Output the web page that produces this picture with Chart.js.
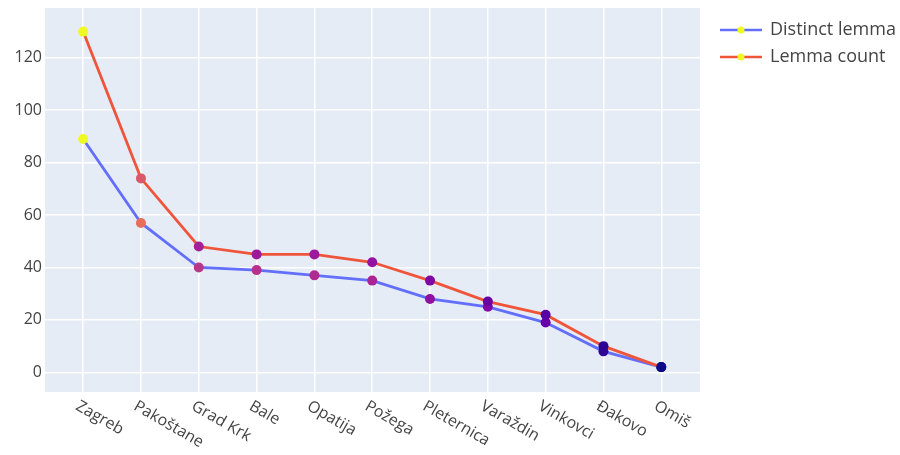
<!DOCTYPE html>
<html lang="en">
<head>
<meta charset="UTF-8">
<title>Lemma counts by city</title>
<script src="https://cdn.jsdelivr.net/npm/chart.js"></script>
<style>
  body { margin: 0; background: #fff; }
  #wrap { width: 900px; height: 455px; }
</style>
</head>
<body>
<div id="wrap"><canvas id="chart" width="900" height="455"></canvas></div>
<script>
// categories and series
const cities = ["Zagreb", "Pakoštane", "Grad Krk", "Bale", "Opatija", "Požega",
                "Pleternica", "Varaždin", "Vinkovci", "Đakovo", "Omiš"];
const distinctLemma = [89, 57, 40, 39, 37, 35, 28, 25, 19, 8, 2];
const lemmaCount = [130, 74, 48, 45, 45, 42, 35, 27, 22, 10, 2];
const yTicks = [0, 20, 40, 60, 80, 100, 120];

// plotly "Plasma" colorscale for marker colours
const plasmaStops = ["#0d0887", "#46039f", "#7201a8", "#9c179e", "#bd3786",
                     "#d8576b", "#ed7953", "#fb9f3a", "#fdca26", "#f0f921"];
function hex(c) { return [1, 3, 5].map(i => parseInt(c.substr(i, 2), 16)); }
function plasma(t) {
    t = Math.max(0, Math.min(1, t)) * (plasmaStops.length - 1);
    const i = Math.min(Math.floor(t), plasmaStops.length - 2);
    const f = t - i;
    const a = hex(plasmaStops[i]), b = hex(plasmaStops[i + 1]);
    return "rgb(" + a.map((v, k) => Math.round(v + (b[k] - v) * f)).join(",") + ")";
}
function markerColors(vals) {
    const lo = Math.min(...vals), hi = Math.max(...vals);
    return vals.map(v => plasma((v - lo) / (hi - lo)));
}

const FONT = "'Open Sans', 'Noto Sans', sans-serif";
const TXT = "#444";

// rotated category labels + plotly style legend
const extras = {
    id: "extras",
    afterDraw(chart) {
        const ctx = chart.ctx;
        const xs = chart.scales.x;
        ctx.save();
        ctx.font = "16px " + FONT;
        ctx.fillStyle = TXT;
        ctx.textAlign = "left";
        ctx.textBaseline = "top";
        cities.forEach((c, i) => {
            const px = xs.getPixelForValue(i);
            ctx.save();
            ctx.translate(px - 2, chart.chartArea.bottom + 6);
            ctx.rotate(30 * Math.PI / 180);
            ctx.fillText(c, 0, 0);
            ctx.restore();
        });
        // legend
        const items = [
            { label: "Distinct lemma", color: "#636efa", y: 30 },
            { label: "Lemma count", color: "#ef553b", y: 57 }
        ];
        ctx.font = "18px " + FONT;
        ctx.textBaseline = "middle";
        items.forEach(it => {
            ctx.strokeStyle = it.color;
            ctx.lineWidth = 2.5;
            ctx.beginPath();
            ctx.moveTo(720, it.y);
            ctx.lineTo(762, it.y);
            ctx.stroke();
            ctx.fillStyle = "#f0f921";
            ctx.beginPath();
            ctx.arc(741, it.y, 3.5, 0, Math.PI * 2);
            ctx.fill();
            ctx.fillStyle = TXT;
            ctx.fillText(it.label, 770, it.y);
        });
        ctx.restore();
    }
};

const plotBg = {
    id: "plotBg",
    beforeDraw(chart) {
        const a = chart.chartArea;
        chart.ctx.save();
        chart.ctx.fillStyle = "#e5ecf6";
        chart.ctx.fillRect(a.left, a.top, a.right - a.left, a.bottom - a.top);
        chart.ctx.restore();
    }
};

new Chart(document.getElementById("chart"), {
    type: "line",
    data: {
        datasets: [
            {
                label: "Distinct lemma",
                data: distinctLemma.map((v, i) => ({ x: i, y: v })),
                borderColor: "#636efa",
                borderWidth: 2.8,
                pointRadius: 5,
                pointBorderWidth: 0,
                pointBackgroundColor: markerColors(distinctLemma),
                order: 1
            },
            {
                label: "Lemma count",
                data: lemmaCount.map((v, i) => ({ x: i, y: v })),
                borderColor: "#ef553b",
                borderWidth: 2.8,
                pointRadius: 5,
                pointBorderWidth: 0,
                pointBackgroundColor: markerColors(lemmaCount),
                order: 0
            }
        ]
    },
    options: {
        responsive: false,
        animation: false,
        layout: { padding: { top: 8, right: 200, left: 0, bottom: 0 } },
        plugins: { legend: { display: false }, tooltip: { enabled: false } },
        scales: {
            x: {
                type: "linear",
                min: -0.66,
                max: 10.67,
                afterBuildTicks: s => { s.ticks = cities.map((c, i) => ({ value: i })); },
                afterFit: s => { s.height = 63; },
                ticks: { display: false },
                grid: { color: "#ffffff", lineWidth: 1.5, drawTicks: false },
                border: { display: false }
            },
            y: {
                min: -7.5,
                max: 139,
                afterBuildTicks: s => { s.ticks = yTicks.map(v => ({ value: v })); },
                afterFit: s => { s.width = 45; s.paddingTop = 0; s.paddingBottom = 0; },
                ticks: { color: TXT, font: { family: FONT, size: 16 }, padding: 3 },
                grid: { color: "#ffffff", lineWidth: 1.5, drawTicks: false },
                border: { display: false }
            }
        }
    },
    plugins: [plotBg, extras]
});
</script>
</body>
</html>
